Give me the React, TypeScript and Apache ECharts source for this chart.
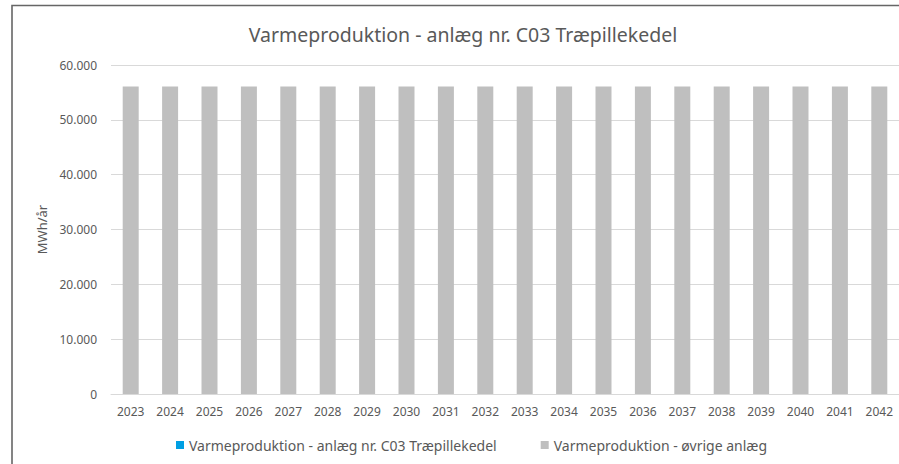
import React, { useEffect, useRef } from "react";
import * as echarts from "echarts";

const title = "Varmeproduktion - anlæg nr. C03 Træpillekedel";
const years = ["2023","2024","2025","2026","2027","2028","2029","2030","2031","2032","2033","2034","2035","2036","2037","2038","2039","2040","2041","2042"];
const c03Values = [0,0,0,0,0,0,0,0,0,0,0,0,0,0,0,0,0,0,0,0];
const otherValues = [56100,56100,56100,56100,56100,56100,56100,56100,56100,56100,56100,56100,56100,56100,56100,56100,56100,56100,56100,56100];
const seriesNames = ["Varmeproduktion - anlæg nr. C03 Træpillekedel", "Varmeproduktion - øvrige anlæg"];
const yAxisName = "MWh/år";

const FONT = "'Noto Sans', sans-serif";
const TXT = "#595959";

function fmt(v: number): string {
  return String(Math.round(v)).replace(/\B(?=(\d{3})+(?!\d))/g, ".");
}

export default function App() {
  const ref = useRef<HTMLDivElement>(null);
  useEffect(() => {
    document.body.style.margin = "0";
    const chart = echarts.init(ref.current!, null, { renderer: "svg" });
    chart.setOption({
      animation: false,
      backgroundColor: "#ffffff",
      textStyle: { fontFamily: FONT },
      legend: {
        left: 171,
        top: 433,
        icon: "rect",
        itemWidth: 8,
        itemHeight: 8,
        itemGap: 44,
        textStyle: { fontFamily: FONT, fontSize: 14, color: TXT },
        data: seriesNames,
      },
      grid: { left: 111, right: -2, top: 65, bottom: 70, containLabel: false },
      xAxis: {
        type: "category",
        data: years,
        axisTick: { show: false },
        axisLine: { lineStyle: { color: "#D9D9D9", width: 1 } },
        axisLabel: { fontFamily: FONT, fontSize: 12, color: TXT, margin: 11, interval: 0 },
      },
      yAxis: {
        type: "value",
        min: 0,
        max: 60000,
        interval: 10000,
        name: yAxisName,
        nameLocation: "middle",
        nameGap: 58,
        nameTextStyle: { fontFamily: FONT, fontSize: 13, color: TXT },
        axisLine: { show: false },
        axisTick: { show: false },
        splitLine: { lineStyle: { color: "#D9D9D9", width: 1 } },
        axisLabel: { fontFamily: FONT, fontSize: 12, color: TXT, margin: 14, formatter: (v: number) => fmt(v) },
      },
      series: [
        {
          name: seriesNames[0],
          type: "bar",
          stack: "total",
          data: c03Values,
          barWidth: 16,
          itemStyle: { color: "#009FE3" },
        },
        {
          name: seriesNames[1],
          type: "bar",
          stack: "total",
          data: otherValues,
          barWidth: 16,
          itemStyle: { color: "#BFBFBF" },
        },
      ],
      graphic: [
        {
          type: "text",
          x: 463,
          y: 34,
          silent: true,
          style: {
            text: title,
            fontFamily: FONT,
            fontSize: 19.5,
            fill: TXT,
            textAlign: "center",
            textVerticalAlign: "middle",
          },
        },
        {
          type: "rect",
          shape: { x: 12, y: 5.5, width: 1000, height: 600 },
          style: { fill: "none", stroke: "#666666", lineWidth: 1.6 },
          silent: true,
          z: 100,
        },
      ],
    });
    return () => chart.dispose();
  }, []);
  return <div ref={ref} style={{ position: "absolute", left: 0, top: 0, width: 899, height: 464 }} />;
}
